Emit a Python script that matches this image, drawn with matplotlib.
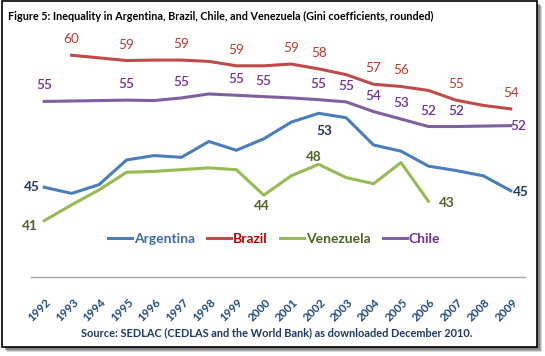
"""
Gini coefficients for Argentina, Brazil, Chile and Venezuela, 1992-2009
"""

import numpy as np
import matplotlib
matplotlib.use('Agg')
import matplotlib.pyplot as plt
import matplotlib.transforms as mtransforms
from matplotlib.patches import Rectangle

# data
years = [str(y) for y in range(1992, 2010)]
argentina = [45.0, 44.3, 45.3, 48.1, 48.6, 48.4, 50.2, 49.2, 50.5, 52.4, 53.4, 52.9,
             49.8, 49.1, 47.4, 46.9, 46.3, 44.6]
brazil = [np.nan, 60.0, 59.7, 59.4, 59.45, 59.45, 59.3, 58.8, 58.8, 59.0, 58.45, 57.8,
          56.7, 56.45, 56.0, 54.9, 54.3, 53.9]
venezuela = [41.2, 43.0, 44.7, 46.7, 46.8, 47.0, 47.2, 47.0, 44.1, 46.3, 47.6, 46.1,
             45.4, 47.8, 43.4, np.nan, np.nan, np.nan]
chile = [54.75, 54.8, 54.85, 54.9, 54.85, 55.15, 55.6, 55.45, 55.3, 55.15, 54.95, 54.7,
         53.6, 52.75, 51.9, 51.9, 51.95, 52.0]

# years that carry a value label
argentina_labeled = ['1992', '2002', '2009']
brazil_labeled = ['1993', '1995', '1997', '1999', '2001', '2002', '2004', '2005', '2007', '2009']
venezuela_labeled = ['1992', '2000', '2002', '2006']
chile_labeled = ['1992', '1995', '1997', '1999', '2000', '2002', '2003', '2004', '2005',
                 '2006', '2007', '2009']

title = 'Figure 5: Inequality in Argentina, Brazil, Chile, and Venezuela (Gini coefficients, rounded)'
source = 'Source: SEDLAC (CEDLAS and the World Bank) as downloaded December 2010.'

# style
W, H, DPI = 545, 356, 100
FONT = ['Lato', 'DejaVu Sans']
plt.rcParams['font.family'] = FONT

series = [
    # name, values, labeled years, line color, legend text color, label color, label style
    ('Argentina', argentina, argentina_labeled, '#4A7EBB', '#3D6CA6', '#1F3864', 'bold'),
    ('Brazil', brazil, brazil_labeled, '#BE4B48', '#C00000', '#C0392B', 'normal'),
    ('Venezuela', venezuela, venezuela_labeled, '#98B954', '#4F6228', '#4F6228', 'bold'),
    ('Chile', chile, chile_labeled, '#7D60A0', '#7030A0', '#7030A0', 'semibold'),
]

# label placement: (dx, dy, ha) in pixels, default is centred above the point
default_offset = (0, 16, 'center')
special_offset = {
    ('Argentina', '1992'): (-4, 0, 'right'),
    ('Argentina', '2002'): (6, -18, 'center'),
    ('Argentina', '2009'): (2, -1, 'left'),
    ('Venezuela', '1992'): (-6, -5, 'right'),
    ('Venezuela', '2000'): (-2, -11, 'center'),
    ('Venezuela', '2002'): (-5, 7, 'center'),
    ('Venezuela', '2006'): (10, -2, 'left'),
    ('Chile', '2009'): (0, 0, 'left'),
}

fig = plt.figure(figsize=(W / DPI, H / DPI), dpi=DPI)
fig.patch.set_facecolor('white')

# picture frame with drop shadow
for k, a in enumerate([0.25, 0.35, 0.5]):
    off = 5 - k
    fig.patches.append(Rectangle(((2 + off) / W, 1 - (347 + off) / H), 535 / W, 346 / H,
                                 transform=fig.transFigure, facecolor='#606060', alpha=a,
                                 edgecolor='none', zorder=-3))
fig.patches.append(Rectangle((2 / W, 1 - 347 / H), 535 / W, 346 / H, transform=fig.transFigure,
                             facecolor='white', edgecolor='black', linewidth=1.2, zorder=-2))

# axes placement in pixels
ax_left, ax_right, ax_bottom = 30.5, 524.5, 277
ymin, ymax = 34.8, 62.0
px_per_unit = 8.8
ax_height = (ymax - ymin) * px_per_unit
ax = fig.add_axes([ax_left / W, (H - ax_bottom) / H, (ax_right - ax_left) / W, ax_height / H])
ax.set_facecolor('none')

x = np.arange(len(years))
for name, values, labeled, color, text_color, label_color, weight in series:
    ax.plot(x, values, color=color, linewidth=2.2, label=name, solid_joinstyle='round')
    for yr in labeled:
        i = years.index(yr)
        dx, dy, ha = special_offset.get((name, yr), default_offset)
        ax.annotate(f'{values[i]:.0f}', (x[i], values[i]), xytext=(dx, dy),
                    textcoords='offset pixels', ha=ha, va='center', fontsize=9.8,
                    color=label_color, fontweight=weight)

ax.set_xlim(-0.5, len(years) - 0.5)
ax.set_ylim(ymin, ymax)
ax.set_yticks([])
for s in ['left', 'right', 'top']:
    ax.spines[s].set_visible(False)
ax.spines['bottom'].set_color('#A6A6A6')
ax.spines['bottom'].set_linewidth(1.0)

ax.set_xticks(x)
ax.set_xticklabels(years, rotation=45, ha='right', va='top', rotation_mode='anchor',
                   fontsize=8.4, fontweight='bold', color='#1F497D')
ax.tick_params(axis='x', length=0, pad=14)
shift = mtransforms.ScaledTranslation(1 / DPI, 0, fig.dpi_scale_trans)
for lab in ax.get_xticklabels():
    lab.set_transform(lab.get_transform() + shift)

# legend
leg = ax.legend(loc='center', bbox_to_anchor=(274 / W, (H - 239) / H),
                bbox_transform=fig.transFigure, ncol=4, frameon=False, fontsize=10,
                handlelength=1.75, handletextpad=0.15, columnspacing=0.85, borderpad=0)
for text, s in zip(leg.get_texts(), series):
    text.set_color(s[4])
    text.set_fontweight('bold')

# title and source, sized to the widths in the reference
renderer = fig.canvas.get_renderer()
t = fig.text(8 / W, 1 - 16.5 / H, title, ha='left', va='center', fontsize=8,
             fontweight='bold', color='black')
t.set_fontsize(8 * 427 / t.get_window_extent(renderer).width)
s = fig.text(81 / W, 1 - 333 / H, source, ha='left', va='center', fontsize=8,
             fontweight='bold', color='#1F3864')
s.set_fontsize(8 * 392 / s.get_window_extent(renderer).width)

fig.savefig('out.png', dpi=DPI)
